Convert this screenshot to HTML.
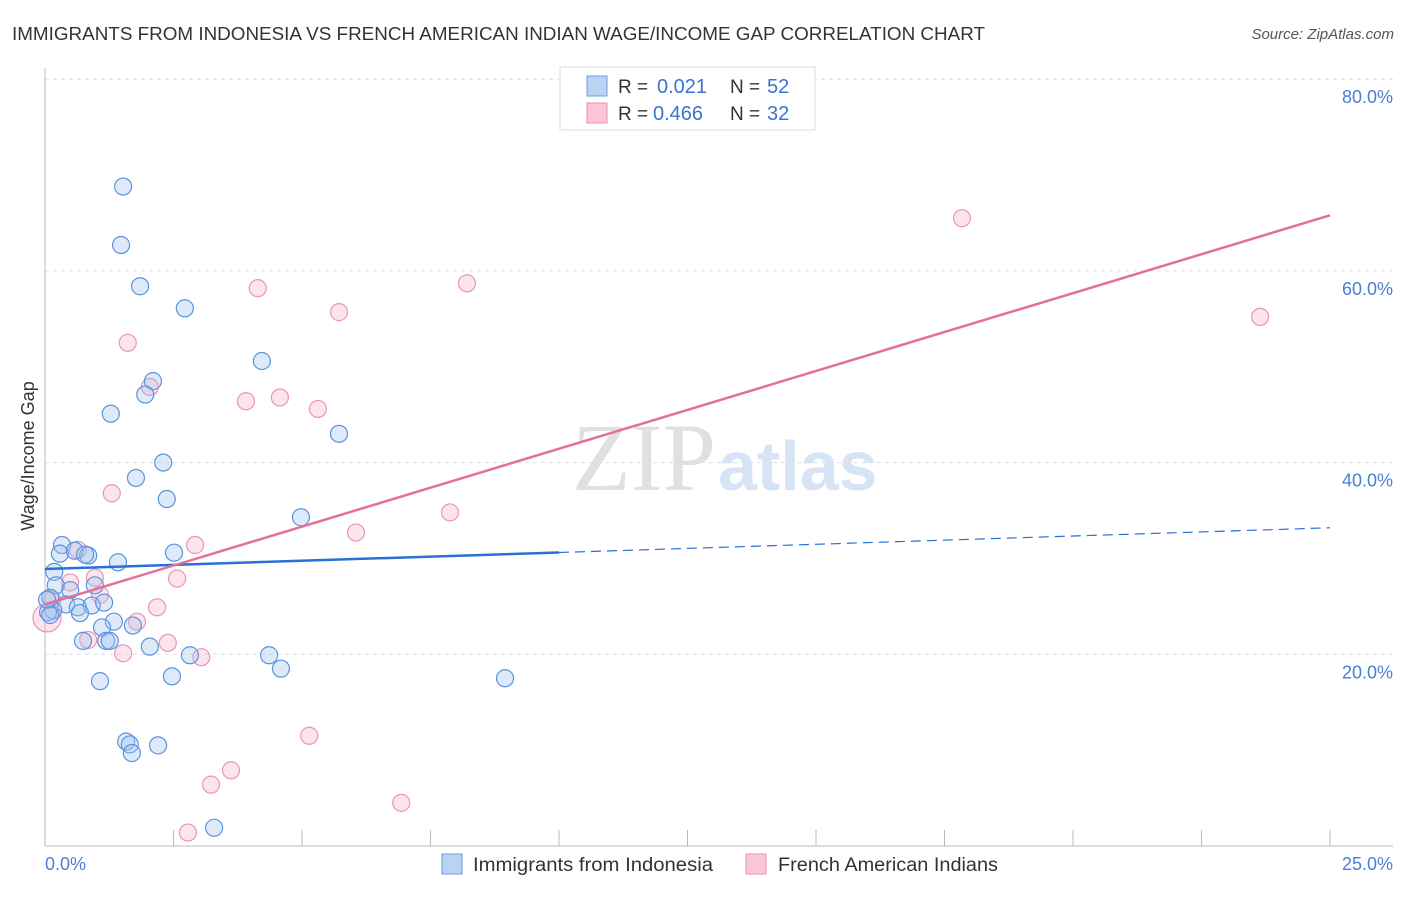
<!DOCTYPE html>
<html><head><meta charset="utf-8"><style>
body{margin:0;background:#fff;font-family:"Liberation Sans",sans-serif;}
</style></head><body>
<svg id="chart" width="1406" height="892" xmlns="http://www.w3.org/2000/svg" style="font-family:'Liberation Sans',sans-serif">
<text x="12" y="40" font-size="18" fill="#333" textLength="973" lengthAdjust="spacingAndGlyphs">IMMIGRANTS FROM INDONESIA VS FRENCH AMERICAN INDIAN WAGE/INCOME GAP CORRELATION CHART</text>
<text x="1394" y="39" font-size="15" fill="#555" font-style="italic" text-anchor="end">Source: ZipAtlas.com</text>
<g id="grid"></g>
<text x="716" y="490" font-size="96" fill="#e0e0e0" text-anchor="end" font-family="Liberation Serif">ZIP</text>
<text x="718" y="490" font-size="70" fill="#d6e4f5" font-weight="bold">atlas</text>
<g id="marks"></g>
<text transform="translate(34,456) rotate(-90)" font-size="18" fill="#333" text-anchor="middle">Wage/Income Gap</text>
<text x="45" y="870" font-size="18" fill="#4a7fd4">0.0%</text>
<text x="1393" y="870" font-size="18" fill="#4a7fd4" text-anchor="end">25.0%</text>
<g>
<rect x="560" y="67" width="255" height="63" fill="#fff" stroke="#ddd"/>
<rect x="587" y="76" width="20" height="20" fill="#b9d3f5" stroke="#6d9fe0"/>
<text x="618" y="93" font-size="19" fill="#333">R =</text>
<text x="657" y="93" font-size="20" fill="#3a73d0">0.021</text>
<text x="730" y="93" font-size="19" fill="#333">N =</text>
<text x="767" y="93" font-size="20" fill="#3a73d0">52</text>
<rect x="587" y="103" width="20" height="20" fill="#f9c7d6" stroke="#e890ad"/>
<text x="618" y="120" font-size="19" fill="#333">R =</text>
<text x="653" y="120" font-size="20" fill="#3a73d0">0.466</text>
<text x="730" y="120" font-size="19" fill="#333">N =</text>
<text x="767" y="120" font-size="20" fill="#3a73d0">32</text>
</g>
<g>
<rect x="442" y="854" width="20" height="20" fill="#b9d3f5" stroke="#6d9fe0"/>
<text x="473" y="871" font-size="19" fill="#333" textLength="240" lengthAdjust="spacingAndGlyphs">Immigrants from Indonesia</text>
<rect x="746" y="854" width="20" height="20" fill="#f9c7d6" stroke="#e890ad"/>
<text x="778" y="871" font-size="19" fill="#333" textLength="220" lengthAdjust="spacingAndGlyphs">French American Indians</text>
</g>
</svg>
<script>
const yTicks=[20,40,60,80];
const yTickLabels=["20.0%","40.0%","60.0%","80.0%"];
const xTicks=[0,2.5,5,7.5,10,12.5,15,17.5,20,22.5,25];
const blueX=[1.52,1.48,1.85,2.72,4.22,2.10,1.95,1.28,5.72,2.30,1.77,2.37,4.98,0.33,0.29,0.58,0.84,0.78,1.42,2.51,0.18,0.21,0.49,0.97,0.10,0.41,0.64,0.91,1.15,0.68,0.16,0.06,1.34,1.11,1.71,0.74,1.19,1.26,2.04,2.82,4.36,4.59,2.47,1.07,8.95,1.58,1.65,1.69,2.20,3.29,0.10,0.04];
const blueY=[68.8,62.7,58.4,56.1,50.6,48.5,47.1,45.1,43.0,40.0,38.4,36.2,34.3,31.4,30.5,30.8,30.3,30.4,29.6,30.6,28.6,27.2,26.7,27.2,25.9,25.2,24.9,25.1,25.4,24.3,24.6,24.4,23.4,22.8,23.0,21.4,21.4,21.4,20.8,19.9,19.9,18.5,17.7,17.2,17.5,10.9,10.6,9.7,10.5,1.9,24.1,25.7];
const pinkX=[17.84,8.21,4.14,5.72,23.64,1.61,2.04,3.91,4.57,5.31,1.30,7.88,6.05,2.92,0.64,0.97,0.49,2.57,1.07,2.18,1.79,2.39,0.84,1.52,3.04,5.14,3.62,3.23,6.93,2.78,0.04,0.14];
const pinkY=[65.5,58.7,58.2,55.7,55.2,52.5,47.9,46.4,46.8,45.6,36.8,34.8,32.7,31.4,30.9,28.0,27.5,27.9,26.2,24.9,23.4,21.2,21.5,20.1,19.7,11.5,7.9,6.4,4.5,1.4,23.8,25.7];
const blueLine=[28.9,33.2];
const pinkLine=[25.2,65.8];
const NS="http://www.w3.org/2000/svg";
const X=v=>45+v/25*1285, Y=v=>846-v*9.585;
function mk(t,a,p){const e=document.createElementNS(NS,t);for(const k in a)e.setAttribute(k,a[k]);p.appendChild(e);return e;}
const g=document.getElementById('grid'),m=document.getElementById('marks');
yTicks.forEach((t,i)=>{
 const l=mk('line',{x1:45,x2:1393,y1:Y(t),y2:Y(t),stroke:'#ddd','stroke-dasharray':'4,4'},g);
 
 
 const tx=mk('text',{x:1393,y:Y(t)+24,'font-size':18,fill:'#4a7fd4','text-anchor':'end'},g);
 tx.textContent=yTickLabels[i];
 
 
});
const ax=mk('line',{x1:45,x2:45,y1:68,y2:846,stroke:'#bbb'},g);


const bx=mk('line',{x1:45,x2:1393,y1:846,y2:846,stroke:'#bbb'},g);


xTicks.forEach(t=>{const l=mk('line',{x1:X(t),x2:X(t),y1:830,y2:846,stroke:'#bbb'},g);
 
 });
pinkX.forEach((v,i)=>{const c=mk('circle',{cx:X(v),cy:Y(pinkY[i]),r:i==30?14:8.5,fill:'rgba(246,178,200,0.35)',stroke:'#eb95b2','stroke-width':1.2},m);
 
 });
blueX.forEach((v,i)=>{const c=mk('circle',{cx:X(v),cy:Y(blueY[i]),r:8.5,fill:'rgba(160,196,240,0.35)',stroke:'#5b93de','stroke-width':1.2},m);
 
 });
const by=v=>blueLine[0]+(blueLine[1]-blueLine[0])*v/25;
const b1=mk('line',{x1:X(0),y1:Y(by(0)),x2:X(10),y2:Y(by(10)),stroke:'#2a6fd6','stroke-width':2.5},m);


const b2=mk('line',{x1:X(10),y1:Y(by(10)),x2:X(25),y2:Y(by(25)),stroke:'#2a6fd6','stroke-width':1.2,'stroke-dasharray':'10,6'},m);


const p1=mk('line',{x1:X(0),y1:Y(pinkLine[0]),x2:X(25),y2:Y(pinkLine[1]),stroke:'#e4709a','stroke-width':2.5},m);


</script>
</body></html>
